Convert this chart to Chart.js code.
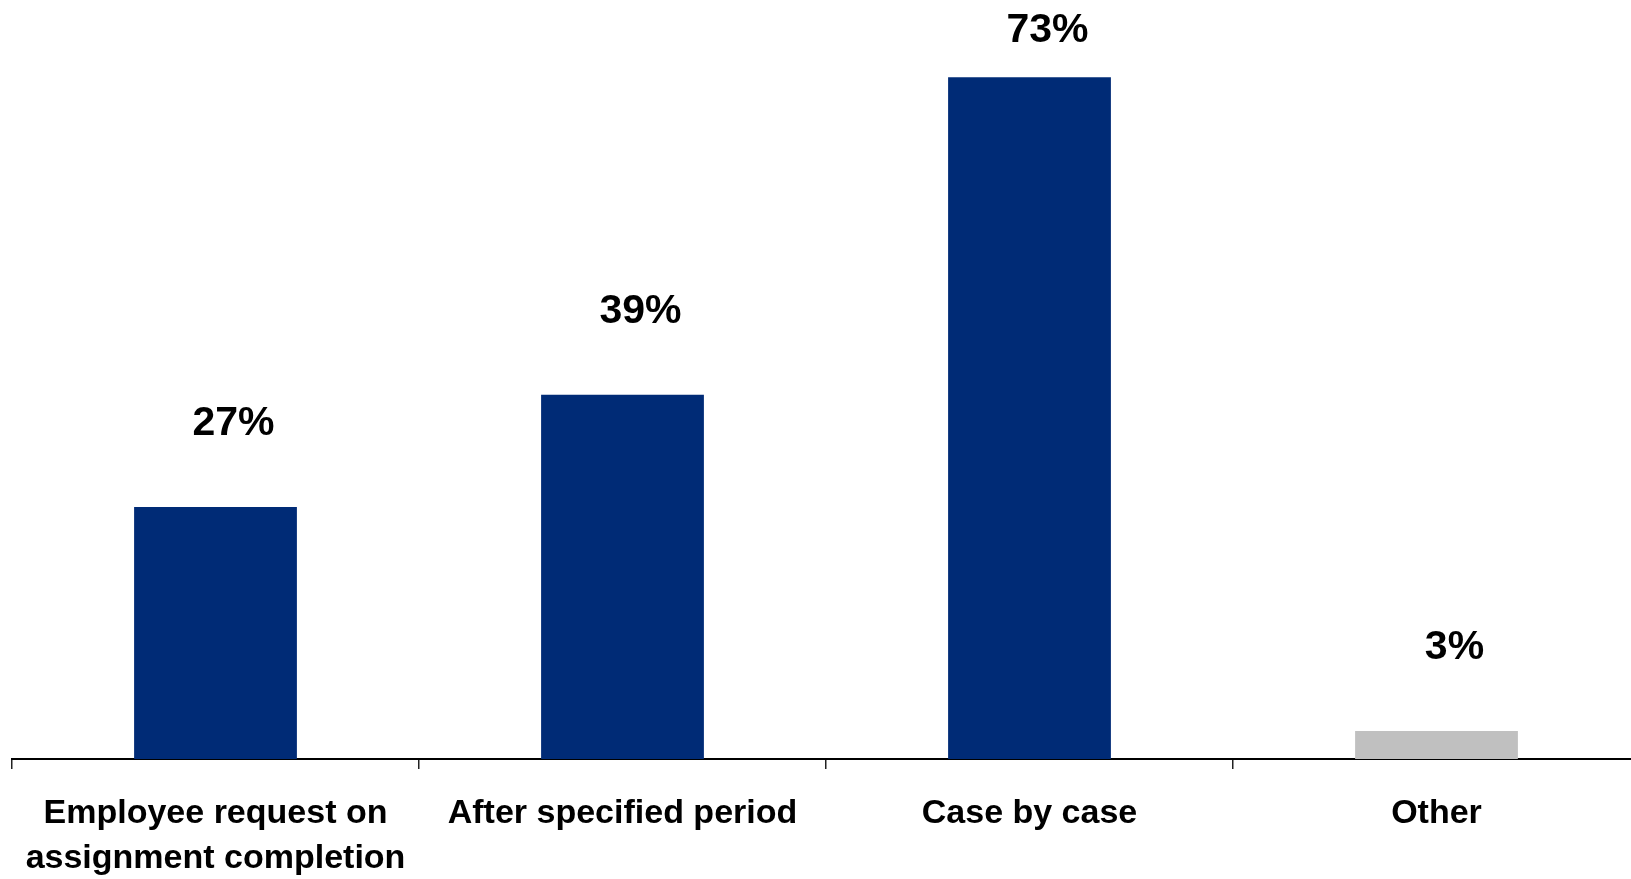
<!DOCTYPE html>
<html>
<head>
<meta charset="utf-8">
<script src="https://cdn.jsdelivr.net/npm/chart.js@4/dist/chart.umd.min.js"></script>
<style>
  html, body { margin: 0; padding: 0; background: #fff; overflow: hidden; }
  #wrap { width: 1631px; height: 879px; overflow: hidden; position: relative; }
  canvas { display: block; }
</style>
</head>
<body>
<div id="wrap"><canvas id="c" width="1640" height="879"></canvas></div>
<script>
// Categories and their shares (percent of respondents)
const categories = [
  ["Employee request on", "assignment completion"],
  "After specified period",
  "Case by case",
  "Other"
];
const values = [27, 39, 73, 3];
const valueLabels = ["27%", "39%", "73%", "3%"];

const NAVY = "#002B76";
const GREY = "#C0C0C0";
const barColors = categories.map(c => c === "Other" ? GREY : NAVY);

const FONT = "'Liberation Sans', Arial, Helvetica, sans-serif";

// Draws the percentage above each bar
const valueLabelPlugin = {
  id: "valueLabels",
  afterDatasetsDraw(chart) {
    const { ctx } = chart;
    const meta = chart.getDatasetMeta(0);
    ctx.save();
    ctx.font = "bold 41px " + FONT;
    ctx.fillStyle = "#000";
    ctx.textAlign = "center";
    ctx.textBaseline = "middle";
    meta.data.forEach((bar, i) => {
      const y = Math.max(bar.y - 83, 31);
      ctx.fillText(valueLabels[i], bar.x + 18, y);
    });
    ctx.restore();
  }
};

new Chart(document.getElementById("c"), {
  type: "bar",
  data: {
    labels: categories,
    datasets: [{
      data: values,
      backgroundColor: barColors,
      borderWidth: 0,
      barPercentage: 0.4,
      categoryPercentage: 1.0
    }]
  },
  options: {
    responsive: false,
    animation: false,
    layout: { padding: { left: 12, right: 0, top: 12, bottom: 0 } },
    plugins: { legend: { display: false }, tooltip: { enabled: false } },
    scales: {
      x: {
        grid: {
          offset: true,
          drawOnChartArea: false,
          drawTicks: true,
          tickLength: 10,
          color: "#222",
          lineWidth: 1.5
        },
        border: { display: true, color: "#000", width: 2 },
        ticks: {
          color: "#000",
          font: { family: FONT, size: 34, weight: "bold", lineHeight: 1.32 },
          padding: 22,
          maxRotation: 0,
          autoSkip: false
        },
        afterFit(scale) { scale.height = 120; }
      },
      y: {
        display: false,
        min: 0,
        max: 80
      }
    }
  },
  plugins: [valueLabelPlugin]
});
</script>
</body>
</html>
